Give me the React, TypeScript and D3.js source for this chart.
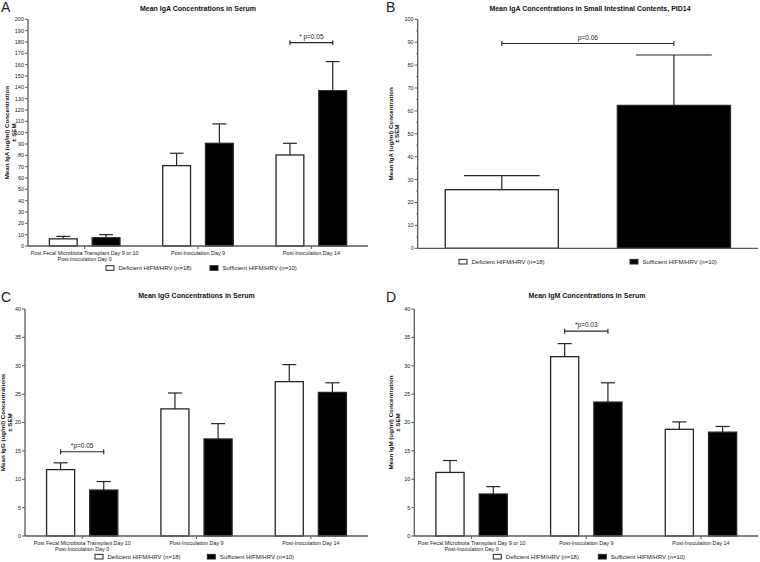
import React from "react";
import * as d3 from "d3";

// ---------- data ----------
const seriesNames = ["Deficient HIFM/HRV (n=18)", "Sufficient HIFM/HRV (n=10)"];

const groupsA = [
  ["Post Fecal Microbiota Transplant Day 9 or 10", "Post-Inoculation Day 0"],
  ["Post-Inoculation Day 9"],
  ["Post-Inoculation Day 14"],
];
const igaSerumDef = [6.3, 70.9, 80.3];
const igaSerumDefSem = [2.2, 10.9, 10.3];
const igaSerumSuf = [7.3, 90.6, 137.0];
const igaSerumSufSem = [2.7, 17.1, 25.7];

const groupsB = [[""]];
const igaIntDef = [25.6];
const igaIntDefSem = [6.1];
const igaIntSuf = [62.4];
const igaIntSufSem = [22.0];

const groupsC = [
  ["Post Fecal Microbiota Transplant Day 10", "Post-Inoculation Day 0"],
  ["Post-Inoculation Day 9"],
  ["Post-Inoculation Day 14"],
];
const iggDef = [11.7, 22.4, 27.2];
const iggDefSem = [1.2, 2.8, 3.0];
const iggSuf = [8.1, 17.1, 25.3];
const iggSufSem = [1.5, 2.7, 1.7];

const groupsD = [
  ["Post Fecal Microbiota Transplant Day 9 or 10", "Post-Inoculation Day 0"],
  ["Post-Inoculation Day 9"],
  ["Post-Inoculation Day 14"],
];
const igmDef = [11.2, 31.6, 18.8];
const igmDefSem = [2.1, 2.3, 1.3];
const igmSuf = [7.4, 23.6, 18.3];
const igmSufSem = [1.3, 3.4, 1.0];

const FONT = "'Liberation Sans', Arial, sans-serif";
const AXIS = "#5a5a5a";
const INK = "#262626";

type PanelProps = {
  letter: string;
  letterX: number;
  letterY: number;
  title: string;
  titleX: number;
  titleY: number;
  ylabel: string[];
  ylabelDx: number;
  x0: number;
  x1: number;
  yTop: number;
  yBottom: number;
  yMax: number;
  yStep: number;
  minorStep?: number;
  groups: string[][];
  def: number[];
  defSem: number[];
  suf: number[];
  sufSem: number[];
  innerPad: number;
  outerPad: number;
  capFrac: number;
  bracket: { g1: number; s1: number; g2: number; s2: number; value: number; text: string };
  legendY: number;
  legendX: [number, number];
  showXTicks: boolean;
};

function Panel(p: PanelProps) {
  const y = d3.scaleLinear().domain([0, p.yMax]).range([p.yBottom, p.yTop]);
  const gIdx = p.groups.map((_, i) => String(i));
  const xg = d3.scaleBand<string>().domain(gIdx).range([p.x0, p.x1]).padding(0);
  const xs = d3
    .scaleBand<string>()
    .domain(["def", "suf"])
    .range([0, xg.bandwidth()])
    .paddingInner(p.innerPad)
    .paddingOuter(p.outerPad);
  const bw = xs.bandwidth();
  const ticks = d3.range(0, p.yMax + p.yStep / 2, p.yStep);
  const minor = p.minorStep ? d3.range(0, p.yMax + p.minorStep / 2, p.minorStep).filter((v) => !ticks.includes(v)) : [];
  const series = [
    { key: "def", vals: p.def, sems: p.defSem, fill: "#ffffff" },
    { key: "suf", vals: p.suf, sems: p.sufSem, fill: "#000000" },
  ];
  const barCenter = (gi: number, si: number) =>
    (xg(String(gi)) as number) + (xs(si === 0 ? "def" : "suf") as number) + bw / 2;
  const bx1 = barCenter(p.bracket.g1, p.bracket.s1);
  const bx2 = barCenter(p.bracket.g2, p.bracket.s2);
  const by = y(p.bracket.value);
  const yMid = (p.yTop + p.yBottom) / 2;

  return (
    <g fontFamily={FONT}>
      <text x={p.letterX} y={p.letterY} fontSize={14} fill="#222">
        {p.letter}
      </text>
      <text x={p.titleX} y={p.titleY} fontSize={7} fontWeight="bold" textAnchor="middle" fill="#111">
        {p.title}
      </text>
      {/* y label */}
      <g transform={`translate(${p.x0 + p.ylabelDx},${yMid}) rotate(-90)`}>
        {p.ylabel.map((t, i) => (
          <text key={i} x={0} y={i * 6.8} fontSize={6.2} fontWeight="bold" textAnchor="middle" fill="#111">
            {t}
          </text>
        ))}
      </g>
      {/* bars */}
      {series.map((s, si) =>
        s.vals.map((v, gi) => {
          const left = (xg(String(gi)) as number) + (xs(s.key) as number);
          const cx = left + bw / 2;
          const top = y(v);
          const capTop = y(v + s.sems[gi]);
          const cw = bw * p.capFrac;
          return (
            <g key={`${si}-${gi}`}>
              <line x1={cx} x2={cx} y1={top} y2={capTop} stroke={INK} strokeWidth={1.2} />
              <line x1={cx - cw / 2} x2={cx + cw / 2} y1={capTop} y2={capTop} stroke={INK} strokeWidth={1.2} />
              <rect
                x={left}
                y={top}
                width={bw}
                height={p.yBottom - top}
                fill={s.fill}
                stroke={INK}
                strokeWidth={1.3}
              />
            </g>
          );
        })
      )}
      {/* y axis */}
      <line x1={p.x0} x2={p.x0} y1={p.yTop} y2={p.yBottom} stroke={AXIS} strokeWidth={1.3} />
      {ticks.map((t) => (
        <g key={t}>
          <line x1={p.x0 - 3} x2={p.x0} y1={y(t)} y2={y(t)} stroke={AXIS} strokeWidth={1} />
          <text x={p.x0 - 4} y={y(t)} dy="0.35em" fontSize={5.5} textAnchor="end" fill="#222">
            {t}
          </text>
        </g>
      ))}
      {minor.map((t) => (
        <line key={`m${t}`} x1={p.x0 - 1.5} x2={p.x0} y1={y(t)} y2={y(t)} stroke={AXIS} strokeWidth={0.8} />
      ))}
      {/* x axis */}
      <line x1={p.x0} x2={p.x1} y1={p.yBottom} y2={p.yBottom} stroke={AXIS} strokeWidth={1.3} />
      {p.showXTicks &&
        p.groups.map((lines, gi) => {
          const cx = (xg(String(gi)) as number) + xg.bandwidth() / 2;
          return (
            <g key={`xt${gi}`}>
              <line x1={cx} x2={cx} y1={p.yBottom} y2={p.yBottom + 3} stroke={AXIS} strokeWidth={1} />
              {lines.map((ln, li) => (
                <text key={li} x={cx} y={p.yBottom + 9 + li * 5.8} fontSize={5.4} textAnchor="middle" fill="#222">
                  {ln}
                </text>
              ))}
            </g>
          );
        })}
      {/* significance bracket */}
      <line x1={bx1} x2={bx2} y1={by} y2={by} stroke={INK} strokeWidth={1.1} />
      <line x1={bx1} x2={bx1} y1={by - 2.5} y2={by + 2.5} stroke={INK} strokeWidth={1.1} />
      <line x1={bx2} x2={bx2} y1={by - 2.5} y2={by + 2.5} stroke={INK} strokeWidth={1.1} />
      <text x={(bx1 + bx2) / 2} y={by - 4} fontSize={6.5} textAnchor="middle" fill="#222">
        {p.bracket.text}
      </text>
      {/* legend */}
      {seriesNames.map((n, i) => (
        <g key={n} transform={`translate(${p.legendX[i]},${p.legendY})`}>
          <rect x={0} y={-2.3} width={8} height={4.6} fill={i === 0 ? "#fff" : "#000"} stroke={INK} strokeWidth={1} />
          <text x={12.5} y={0} dy="0.35em" fontSize={6} fill="#222">
            {n}
          </text>
        </g>
      ))}
    </g>
  );
}

export default function App() {
  return (
    <svg width={760} height={562} style={{ position: "absolute", left: 0, top: 0, background: "#fff" }}>
      <rect width={760} height={562} fill="#fff" />
      <Panel
        letter="A"
        letterX={1}
        letterY={12}
        title="Mean IgA Concentrations in Serum"
        titleX={198}
        titleY={10.5}
        ylabel={["Mean IgA (ug/ml) Concentration", "± SEM"]}
        ylabelDx={-19}
        x0={28}
        x1={368}
        yTop={19.3}
        yBottom={246}
        yMax={200}
        yStep={10}
        groups={groupsA}
        def={igaSerumDef}
        defSem={igaSerumDefSem}
        suf={igaSerumSuf}
        sufSem={igaSerumSufSem}
        innerPad={0.35}
        outerPad={0.5}
        capFrac={0.5}
        bracket={{ g1: 2, s1: 0, g2: 2, s2: 1, value: 179.4, text: "* p=0.05" }}
        legendY={268}
        legendX={[106, 210]}
        showXTicks={true}
      />
      <Panel
        letter="B"
        letterX={386}
        letterY={12}
        title="Mean IgA Concentrations in Small Intestinal Contents, PID14"
        titleX={590}
        titleY={10.5}
        ylabel={["Mean IgA (ug/ml) Concentration", "± SEM"]}
        ylabelDx={-25}
        x0={417.7}
        x1={758}
        yTop={19.3}
        yBottom={248.3}
        yMax={100}
        yStep={10}
        minorStep={5}
        groups={groupsB}
        def={igaIntDef}
        defSem={igaIntDefSem}
        suf={igaIntSuf}
        sufSem={igaIntSufSem}
        innerPad={0.343}
        outerPad={0.16}
        capFrac={0.67}
        bracket={{ g1: 0, s1: 0, g2: 0, s2: 1, value: 89.4, text: "p=0.06" }}
        legendY={261.7}
        legendX={[459, 630]}
        showXTicks={false}
      />
      <Panel
        letter="C"
        letterX={1}
        letterY={302}
        title="Mean IgG Concentrations in Serum"
        titleX={196.5}
        titleY={298}
        ylabel={["Mean IgG (ug/ml) Concentrations", "± SEM"]}
        ylabelDx={-20}
        x0={25}
        x1={368}
        yTop={309}
        yBottom={536}
        yMax={40}
        yStep={5}
        groups={groupsC}
        def={iggDef}
        defSem={iggDefSem}
        suf={iggSuf}
        sufSem={iggSufSem}
        innerPad={0.35}
        outerPad={0.5}
        capFrac={0.5}
        bracket={{ g1: 0, s1: 0, g2: 0, s2: 1, value: 14.85, text: "*p=0.05" }}
        legendY={556.7}
        legendX={[95, 207.3]}
        showXTicks={true}
      />
      <Panel
        letter="D"
        letterX={386}
        letterY={302}
        title="Mean IgM Concentrations in Serum"
        titleX={587}
        titleY={298}
        ylabel={["Mean IgM (ug/ml) Concentration", "± SEM"]}
        ylabelDx={-21}
        x0={414.3}
        x1={758.3}
        yTop={309}
        yBottom={536}
        yMax={40}
        yStep={5}
        groups={groupsD}
        def={igmDef}
        defSem={igmDefSem}
        suf={igmSuf}
        sufSem={igmSufSem}
        innerPad={0.35}
        outerPad={0.5}
        capFrac={0.5}
        bracket={{ g1: 1, s1: 0, g2: 1, s2: 1, value: 36.1, text: "*p=0.03" }}
        legendY={556.7}
        legendX={[493.3, 598.3]}
        showXTicks={true}
      />
    </svg>
  );
}
